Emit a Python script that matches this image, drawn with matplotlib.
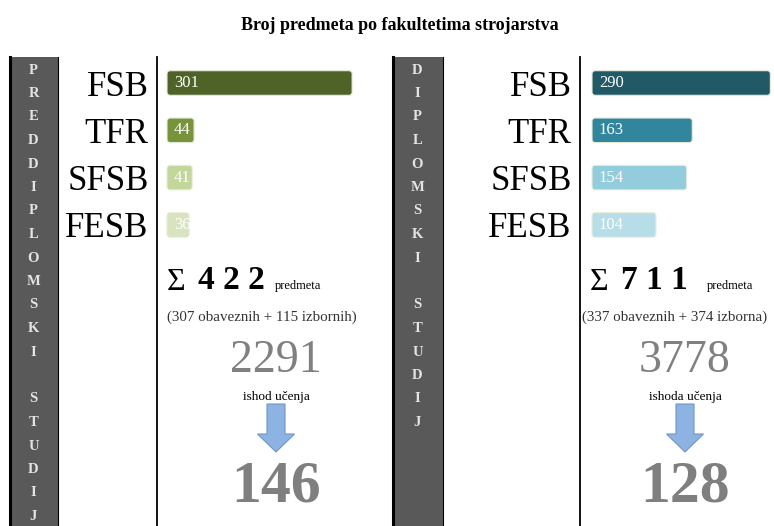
"""
Broj predmeta po fakultetima strojarstva
Infographic: subjects per faculty for undergraduate and graduate study.
"""

import matplotlib.pyplot as plt
from matplotlib.patches import Rectangle, FancyArrow, FancyBboxPatch


# ============================================================
# Data
# ============================================================

faculties = ["FSB", "TFR", "SFSB", "FESB"]
undergrad_counts = [301, 44, 41, 36]
grad_counts = [290, 163, 154, 104]

study_names = ["PREDDIPLOMSKI STUDIJ", "DIPLOMSKI STUDIJ"]
total_subjects = [422, 711]
obligatory = [307, 337]
elective = [115, 374]
elective_words = ["izbornih", "izborna"]
outcomes = [2291, 3778]
outcome_words = ["ishod učenja", "ishoda učenja"]
reduced_outcomes = [146, 128]

# styles
undergrad_colors = ["#4f6228", "#77933c", "#c3d69b", "#d7e4bd"]
grad_colors = ["#215967", "#31859c", "#93cddd", "#b7dee8"]
SERIF = ["Liberation Serif", "DejaVu Serif"]

W, H = 774, 526
PX_PER_UNIT = 0.615
ROW_PX = 47.3


def bar_panel(fig, left_px, width_px, offset_px, counts, colors):
    ax = fig.add_axes([left_px / W, 0, width_px / W, (H - 57) / H])
    ax.set_facecolor("none")
    y = list(range(len(faculties)))
    bars = ax.barh(y, counts, height=0.52, color=colors, left=0)
    ax.set_xlim(-offset_px / PX_PER_UNIT, (width_px - offset_px) / PX_PER_UNIT)
    top = -26 / ROW_PX
    ax.set_ylim(top + (H - 57) / ROW_PX, top)

    # rounded look of the bars
    for b, c in zip(bars, colors):
        b.set_visible(False)
        rb = FancyBboxPatch((b.get_x(), b.get_y()), b.get_width(), b.get_height(),
                            boxstyle="round,pad=0,rounding_size=5",
                            mutation_aspect=PX_PER_UNIT / ROW_PX,
                            fc=c, ec="#e8eddc", lw=0.8)
        ax.add_patch(rb)
    for yi, v in zip(y, counts):
        ax.text(10 / PX_PER_UNIT - 5, yi, str(v), color="white", family=SERIF,
                fontsize=12, va="center", ha="left")

    ax.set_yticks(y)
    ax.set_yticklabels(faculties, family=SERIF, fontsize=25)
    ax.tick_params(axis="y", length=0, pad=6)
    ax.set_xticks([])
    for s in ["top", "right", "bottom"]:
        ax.spines[s].set_visible(False)
    ax.spines["left"].set_linewidth(1.3)
    return ax


def side_label(bg, x0, x1, text):
    bg.add_patch(Rectangle((x0, 57), x1 - x0, H - 57, fc="#595959", ec="none"))
    bg.plot([x0 + 1, x0 + 1], [57, H], color="black", lw=2.2)
    bg.plot([x1, x1], [57, H], color="black", lw=0.8)
    cx = (x0 + x1) / 2
    for k, ch in enumerate(text):
        bg.text(cx, 70 + 23.5 * k, ch, color="#e4e4e4", family=SERIF,
                fontsize=10.5, fontweight="bold", ha="center", va="center")


def summary(bg, x0, cx, i):
    bg.text(x0, 290, "Σ", family=SERIF, fontsize=23, ha="left", va="baseline")
    bg.text(x0 + 31, 289, " ".join(str(total_subjects[i])), family=SERIF,
            fontsize=24, fontweight="bold", ha="left", va="baseline")
    bg.text(x0 + 108 if i == 0 else x0 + 117, 289, "predmeta", family=SERIF,
            fontsize=9, ha="left", va="baseline")
    bg.text(x0 + (0 if i == 0 else -8), 317,
            f"({obligatory[i]} obaveznih + {elective[i]} {elective_words[i]})",
            family=SERIF, fontsize=10.8, color="#333333", ha="left", va="center")
    bg.text(cx, 372, str(outcomes[i]), family=SERIF, fontsize=33,
            color="#808080", ha="center", va="baseline")
    bg.text(cx, 397, outcome_words[i], family=SERIF, fontsize=9.5,
            ha="center", va="center")
    bg.add_patch(FancyArrow(cx, 404, 0, 48, width=18, head_width=37,
                            head_length=18, length_includes_head=True,
                            fc="#8db3e2", ec="#6f96c8", lw=0.8))
    bg.text(cx, 501, str(reduced_outcomes[i]), family=SERIF, fontsize=43,
            fontweight="bold", color="#7f7f7f", ha="center", va="baseline")


def draw():
    fig = plt.figure(figsize=(W / 100, H / 100), dpi=100)
    bg = fig.add_axes([0, 0, 1, 1])
    bg.set_xlim(0, W)
    bg.set_ylim(H, 0)
    bg.axis("off")

    bg.text(400, 25, "Broj predmeta po fakultetima strojarstva", family=SERIF,
            fontsize=13, fontweight="bold", ha="center", va="center")

    side_label(bg, 9, 58, study_names[0])
    side_label(bg, 392, 443, study_names[1])

    bar_panel(fig, 157, 223, 10, undergrad_counts, undergrad_colors)
    bar_panel(fig, 580, 194, 12, grad_counts, grad_colors)

    summary(bg, 167, 276, 0)
    summary(bg, 590, 685, 1)

    fig.savefig("out.png", dpi=100)


if __name__ == "__main__":
    draw()
